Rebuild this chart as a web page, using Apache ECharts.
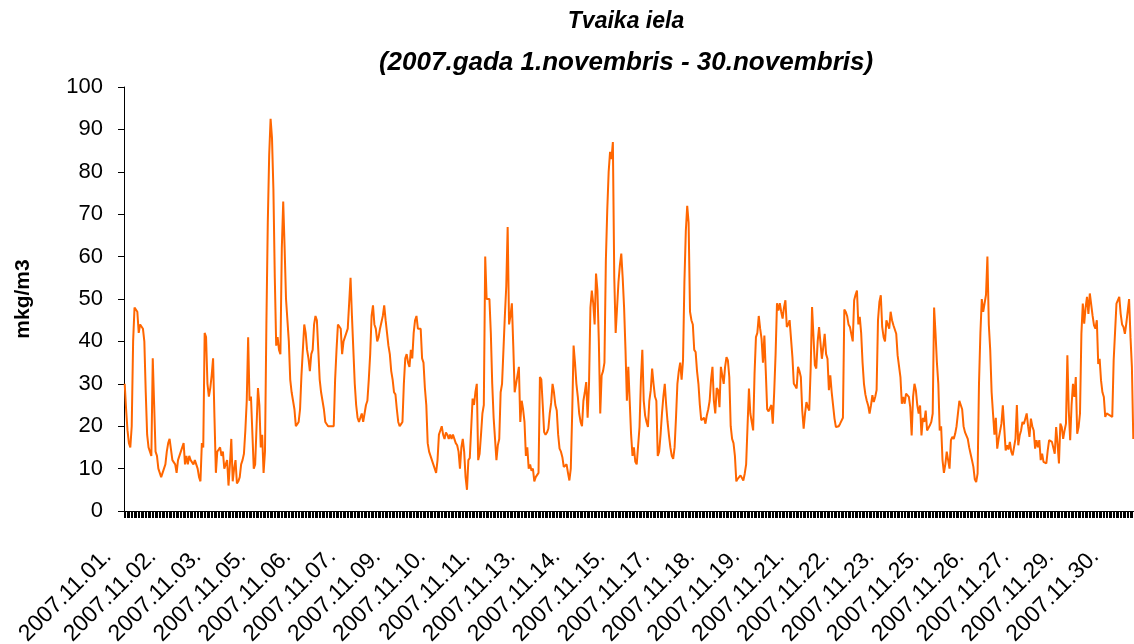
<!DOCTYPE html>
<html>
<head>
<meta charset="utf-8">
<title>Tvaika iela</title>
<script src="https://cdn.jsdelivr.net/npm/echarts@6/dist/echarts.min.js"></script>
<style>
  html, body { margin: 0; padding: 0; background: #fff; }
  #chart { width: 1134px; height: 644px; }
</style>
</head>
<body>
<div id="chart"></div>
<script>
// november 2007, hourly values, one row per day
var days = ['01', '02', '03', '04', '05', '06', '07', '08', '09', '10',
  '11', '12', '13', '14', '15', '16', '17', '18', '19', '20',
  '21', '22', '23', '24', '25', '26', '27', '28', '29', '30']

var values = [
  30, 24, 19, 16, 15, 20, 40, 48, 48, 47, 42, 44, 44, 43, 40, 28, 18, 15, 14, 13, 36, 25, 14, 13,
  10, 10, 8, 9, 10, 11, 14, 16, 17, 17, 12, 12, 11, 9, 12, 13, 14, 15, 16, 11, 13, 11, 13, 12,
  12, 11, 12, 11, 10, 8, 7, 16, 15, 42, 41, 30, 27, 29, 32, 36, 22, 9, 14, 14.5, 15, 13, 14, 10,
  11, 12, 6, 11, 17, 7, 10, 12, 6.5, 7, 8, 11, 12, 13.5, 19, 26, 41, 26, 27, 27, 10, 11, 20, 29,
  25, 15, 18, 9, 14, 44, 68, 84, 92.5, 88, 76, 55, 39, 41, 38, 37, 62, 73, 62, 50, 45, 40, 31, 28,
  26, 24, 20, 20.5, 21, 24, 32, 38, 44, 42, 38, 36, 33, 37, 38, 44, 46, 45, 38, 31, 28, 26, 24, 21,
  21, 20, 20, 20, 20, 20, 31, 38, 44, 43.5, 43, 37, 40, 41, 42, 43, 49, 55, 46, 38, 30, 25, 22, 21,
  21, 23, 21, 23, 25, 26, 31, 37, 46, 48.5, 44, 43, 40, 41, 43, 43, 46, 48.5, 45, 42, 39, 37, 33, 31,
  28, 27.5, 24, 21, 20, 20.5, 21, 30, 36, 37, 35, 34, 38, 36, 42, 45, 46, 43, 43, 43, 36, 35, 29, 25,
  16, 14, 13, 13, 11, 10, 9, 12, 18, 19, 20, 18, 17, 18.5, 18, 17, 18, 17, 18, 17, 16, 15.5, 14, 10,
  15, 17, 14, 8, 5, 12, 12.5, 12.5, 26.5, 25, 28, 30, 12, 13.5, 18, 23, 25, 60, 50, 50, 50, 42, 30, 22,
  17, 12, 15.5, 17, 28, 30, 38, 46, 53, 67, 44, 46, 49, 39, 28, 28, 32, 34, 21, 26, 24, 21, 13, 15,
  10, 11, 9.5, 10, 7, 8, 8.4, 9, 31.6, 31, 25, 18.6, 18, 18.5, 19.4, 23, 25.5, 30, 28, 25, 23.7, 18, 14.7, 14,
  12.7, 10.4, 10.4, 11, 9, 7.2, 10, 23, 39, 35, 30, 27, 23, 21, 20, 26, 28, 30.4, 22, 30, 48, 52, 49, 44,
  56, 52, 40, 23, 32, 33, 35, 59, 71, 80, 84.7, 83, 87, 55, 42, 48, 54, 58, 60.7, 55, 48, 38, 26, 34,
  26, 18, 13, 15, 11.6, 11, 11, 19.8, 31, 38, 26, 22.5, 21, 19.8, 26, 28.5, 33.6, 30, 27, 26, 13, 14, 18, 23,
  27, 30, 25, 21, 17.8, 15, 13, 12.3, 15, 22, 30, 33, 35, 31, 35.5, 54, 66, 72, 68, 47, 45, 44, 38, 37.5,
  33, 30, 25, 21.4, 21, 22, 20.6, 22.6, 24, 26, 31, 34, 26, 23, 29, 28.5, 24.5, 34, 32, 30, 34, 36.3, 35.5, 31.6,
  20, 17, 16, 13, 7, 7.6, 8, 8.4, 8.4, 7.2, 8.8, 11, 20, 28.9, 23, 23.3, 19, 32.4, 41, 42, 46, 43, 40.6, 35,
  41.4, 33, 24, 23.5, 23.3, 25, 20.6, 28, 37, 49, 47.3, 49, 47, 45.4, 48, 49.7, 43.4, 44, 45, 45, 36.3, 30, 29.5, 28.9,
  34, 33, 31.6, 23.7, 19.4, 23, 25.7, 24.5, 23.7, 33.6, 48.1, 47.7, 34.4, 33.6, 40, 43.4, 43.8, 35.9, 38.7, 41.8, 37, 35.9, 28.5, 32,
  28, 28, 21.8, 19.8, 19.4, 20, 20.6, 21, 22, 47.5, 47, 46, 44, 43.4, 43.4, 40, 49.7, 51, 52, 44, 45.8, 42, 35, 30,
  27.5, 26, 24.9, 23, 24.9, 27.3, 25.7, 26.9, 28.5, 45, 49.3, 50.9, 43.4, 41, 40, 45, 44, 43, 47, 45, 43.8, 43.8, 41.8, 36.7,
  36.3, 31.6, 25.3, 26.9, 25.3, 27.7, 27.7, 26.9, 24.5, 17.8, 26.9, 30, 28.5, 25, 23, 24.9, 17.8, 22, 21, 23.7, 19, 18.6, 20.2, 21,
  23, 48, 42, 35, 30, 19, 20, 12, 9, 11, 14, 12, 10, 16.7, 17.5, 17, 18.2, 20, 23, 26, 25, 24, 20, 18.6,
  19, 17, 15, 13.5, 12, 10.4, 7.5, 6.8, 8.8, 30, 42, 50, 47, 47, 51, 60, 44, 38, 28, 23, 18, 22, 14.7, 17,
  17, 20.6, 24.9, 24.9, 14.3, 15.5, 14.5, 16.3, 14, 13.1, 13.1, 17, 25, 15.5, 17.8, 19, 21, 20.5, 20.2, 23, 20, 17.5, 21.8, 20,
  19, 14.7, 16.7, 15, 16.7, 12, 13.5, 11.6, 11.5, 11.2, 14.3, 16.7, 16.5, 16.3, 16.5, 13.5, 19.8, 15.9, 11.2, 20.6, 19.8, 17, 19, 20.6,
  36.7, 23.7, 16.7, 25, 30, 26.9, 31.6, 18.2, 19.8, 23, 41.8, 48.9, 44.2, 48, 50.5, 46.5, 51.3, 51.7, 46, 43.8, 43, 45, 34.7, 35.9,
  30.8, 28, 26.9, 22.2, 23, 22.8, 22.6, 22.4, 22.2, 35.5, 35.5, 48.9, 48.9, 50.5, 46.5, 44, 43.4, 41.8, 44.2, 44.2, 50, 41, 34, 17
]

// one category per hour, labelled with its date
var categories = []
days.forEach(function (d) {
  for (var h = 0; h < 24; h++) categories.push('2007.11.' + d + '.')
})

var chart = echarts.init(document.getElementById('chart'))

var font = 'Liberation Sans, Arial, sans-serif'

var option = {
  animation: false,
  backgroundColor: '#fff',
  title: [
    {
      text: 'Tvaika iela',
      left: 621,
      top: 5,
      textAlign: 'center',
      textStyle: { fontFamily: font, fontSize: 23, fontWeight: 'bold', fontStyle: 'italic', color: '#000' },
    },
    {
      text: '(2007.gada 1.novembris - 30.novembris)',
      left: 621,
      top: 45,
      textAlign: 'center',
      textStyle: { fontFamily: font, fontSize: 26, fontWeight: 'bold', fontStyle: 'italic', color: '#000' },
    },
  ],
  grid: { left: 124, right: 0, top: 87, bottom: 133, outerBoundsMode: 'none' },
  xAxis: {
    type: 'category',
    data: categories,
    boundaryGap: true,
    axisLine: { lineStyle: { color: '#000', width: 1 } },
    axisTick: { show: true, interval: 0, length: 7, lineStyle: { color: '#000', width: 1 } },
    axisLabel: {
      interval: 31,
      rotate: 45,
      margin: 25,
      padding: [0, 24, 0, 0],
      fontFamily: font,
      fontSize: 23,
      color: '#000',
    },
    splitLine: { show: false },
  },
  yAxis: {
    type: 'value',
    min: 0,
    max: 100,
    interval: 10,
    name: 'mkg/m3',
    nameLocation: 'middle',
    nameRotate: 90,
    nameGap: 90,
    nameTextStyle: { fontFamily: font, fontSize: 21, fontWeight: 'bold', color: '#000' },
    axisLine: { show: true, lineStyle: { color: '#000' } },
    axisTick: { show: true, length: 6, lineStyle: { color: '#000' } },
    axisLabel: { fontFamily: font, fontSize: 22, margin: 21, color: '#000' },
    splitLine: { show: false },
  },
  series: [
    {
      name: 'mkg/m3',
      type: 'line',
      data: values,
      symbol: 'none',
      lineStyle: { color: '#FF6600', width: 2 },
      itemStyle: { color: '#FF6600' },
    },
  ],
}

chart.setOption(option)
console.log('points', values.length)
</script>
</body>
</html>
